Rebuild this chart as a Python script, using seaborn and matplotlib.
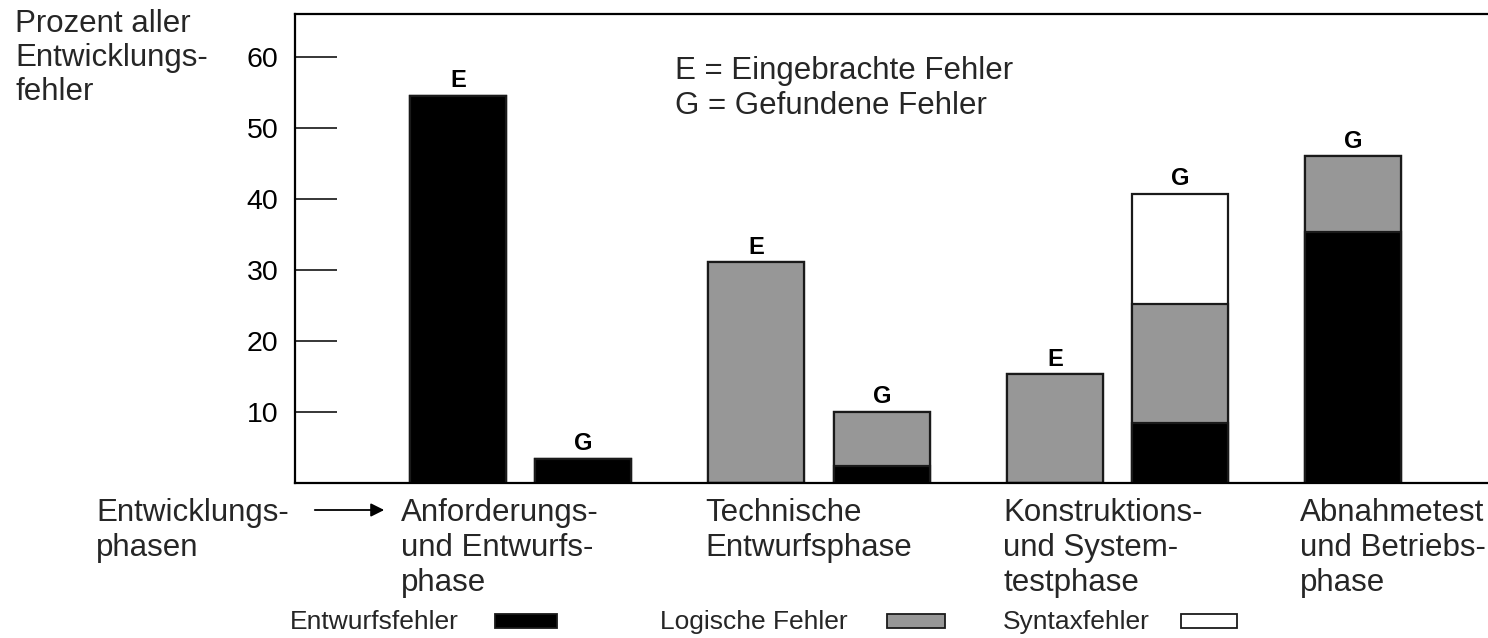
import numpy as np
import pandas as pd
import seaborn as sns
import matplotlib
matplotlib.use("Agg")
import matplotlib.pyplot as plt
from matplotlib.patches import Rectangle

# ---------------- data ----------------
phases = [
    "Anforderungs-\nund Entwurfs-\nphase",
    "Technische\nEntwurfsphase",
    "Konstruktions-\nund System-\ntestphase",
    "Abnahmetest\nund Betriebs-\nphase",
]
bar_phase = [0, 0, 1, 1, 2, 2, 3]
bar_letter = ["E", "G", "E", "G", "E", "G", "G"]
entwurf = [54.5, 3.4, 0.0, 2.4, 0.0, 8.4, 35.3]
logisch = [0.0, 0.0, 31.1, 7.6, 15.3, 16.8, 10.7]
syntax = [0.0, 0.0, 0.0, 0.0, 0.0, 15.5, 0.0]
ytick_values = [10, 20, 30, 40, 50, 60]
legend_labels = ["Entwurfsfehler", "Logische Fehler", "Syntaxfehler"]
y_title = "Prozent aller\nEntwicklungs-\nfehler"
x_title = "Entwicklungs-\nphasen"
note = "E = Eingebrachte Fehler\nG = Gefundene Fehler"

# ---------------- style ----------------
sns.set_theme(style="white")
plt.rcParams["font.family"] = ["Liberation Sans", "DejaVu Sans"]

BLACK = "#000000"
GRAY = "#979797"
WHITE = "#ffffff"
EDGE = "#1a1a1a"
FS = 22.5

W, H = 1488, 638
fig = plt.figure(figsize=(W / 100, H / 100), dpi=100)
ax = fig.add_axes([295 / W, (H - 483) / H, 1 - 295 / W, (483 - 14) / H])

# bar positions: E bar at phase index, G bar shifted right (unless alone)
has_e = {p for p, l in zip(bar_phase, bar_letter) if l == "E"}
xpos = [p + (0.42 if (l == "G" and p in has_e) else 0.0)
        for p, l in zip(bar_phase, bar_letter)]

c1 = np.array(entwurf)
c2 = c1 + np.array(logisch)
c3 = c2 + np.array(syntax)

df = pd.DataFrame({"x": xpos, "black": c1, "gray": c2, "white": c3})
wrel = 0.322 / 0.42
for col, colr in [("white", WHITE), ("gray", GRAY), ("black", BLACK)]:
    sns.barplot(data=df, x="x", y=col, native_scale=True, color=colr,
                saturation=1, width=wrel, errorbar=None, ax=ax,
                edgecolor=EDGE, linewidth=1.6)

# letters above bars
for x, top, l in zip(xpos, c3, bar_letter):
    ax.annotate(l, (x, top), xytext=(0, 2.5), textcoords="offset points",
                ha="center", va="bottom", fontsize=17, fontweight="bold",
                color="black")

ax.set_xlim(-0.546, 3.451)
ax.set_ylim(0, 66)
ax.set_xlabel("")
ax.set_ylabel("")
ax.set_xticks([])
ax.set_yticks(ytick_values)
ax.set_yticklabels([str(v) for v in ytick_values])
ax.tick_params(axis="y", direction="in", length=30, width=1.1, pad=12,
               labelsize=20.5, colors="black", left=True)
for s in ["left", "top", "bottom"]:
    ax.spines[s].set_visible(True)
    ax.spines[s].set_color("black")
    ax.spines[s].set_linewidth(1.6)
ax.spines["right"].set_visible(False)
ax.grid(False)

# note text inside plot
fig.text(675 / W, 1 - 56 / H, note, ha="left", va="top", fontsize=FS,
         linespacing=1.2)

# y title
fig.text(15 / W, 1 - 9 / H, y_title, ha="left", va="top", fontsize=FS,
         linespacing=1.18)

# category labels
cat_left = [401, 705, 1003]
for lab, xl in zip(phases[:3], cat_left):
    fig.text(xl / W, 1 - 498 / H, lab, ha="left", va="top", fontsize=FS,
             linespacing=1.22)
# last label is flush with the right edge of the picture
fig.text(1486 / W, 1 - 498 / H, phases[3], ha="right", va="top",
         multialignment="left", fontsize=FS, linespacing=1.22)

fig.text(96 / W, 1 - 498 / H, x_title, ha="left", va="top", fontsize=FS,
         linespacing=1.22)
ax.annotate("", xy=(387, H - 510), xycoords="figure pixels",
            xytext=(312, H - 510), textcoords="figure pixels",
            arrowprops=dict(arrowstyle="-|>", color="black", lw=1.3,
                            mutation_scale=20))

# legend
leg_text_x = [290, 660, 1003]
leg_rect_x = [495, 887, 1181]
leg_rect_w = [62, 58, 56]
leg_colors = [BLACK, GRAY, WHITE]
for lab, tx, rx, rw, colr in zip(legend_labels, leg_text_x, leg_rect_x,
                                  leg_rect_w, leg_colors):
    fig.text(tx / W, 1 - 622 / H, lab, ha="left", va="center", fontsize=19)
    fig.add_artist(Rectangle((rx / W, 1 - 628 / H), rw / W, 14 / H,
                             transform=fig.transFigure, facecolor=colr,
                             edgecolor=EDGE, linewidth=1.3))

fig.savefig("out.png", dpi=100)
